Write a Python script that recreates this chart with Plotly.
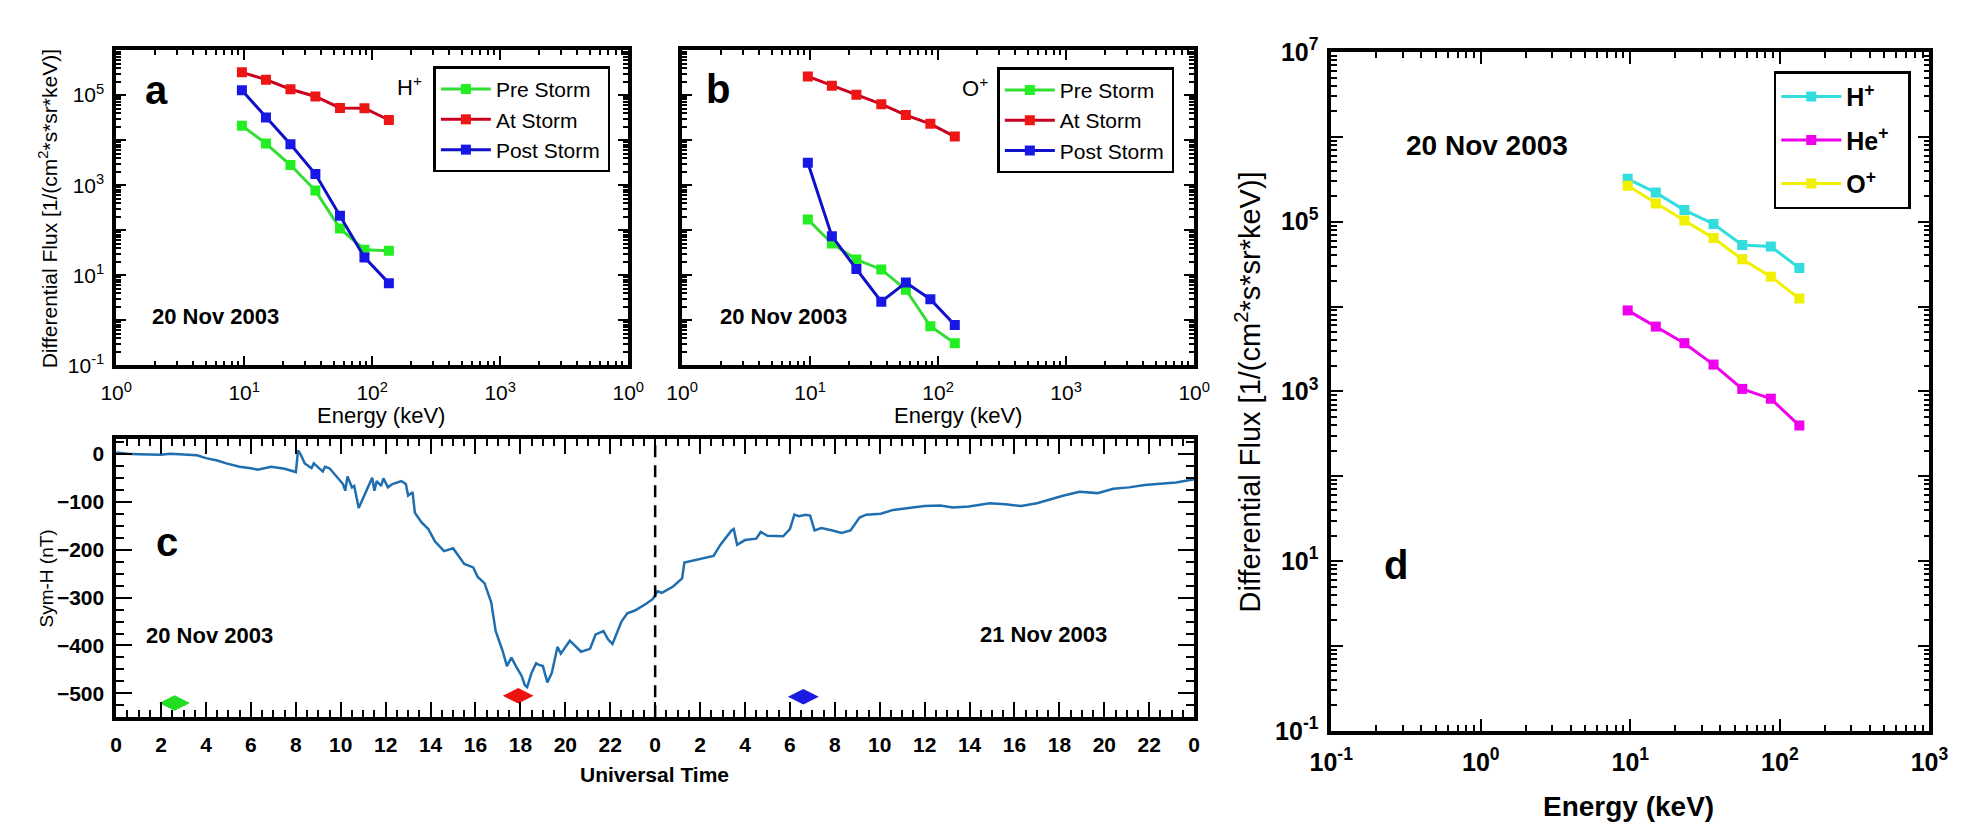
import plotly.graph_objects as go

# ---------------- data ----------------
energy_kev = [9.6, 14.8, 23.0, 36.0, 56.0, 87.0, 135.0]

# panel a (H+)
hp_pre = [2.1e4, 8.4e3, 2.8e3, 7.6e2, 1.1e2, 37, 35]
hp_at = [3.2e5, 2.2e5, 1.35e5, 9.3e4, 5.2e4, 5.1e4, 2.8e4]
hp_post = [1.28e5, 3.2e4, 8.1e3, 1.77e3, 2.1e2, 25, 6.7]

# panel b (O+)
op_pre = [174, 51, 22.4, 13.5, 4.8, 0.74, 0.31]
op_at = [2.6e5, 1.62e5, 1.02e5, 6.3e4, 3.6e4, 2.3e4, 1.2e4]
op_post = [3.16e3, 74, 13.8, 2.6, 6.9, 2.95, 0.79]

# panel d (at storm)
d_hp = [3.2e5, 2.2e5, 1.37e5, 9.4e4, 5.3e4, 5.1e4, 2.84e4]
d_hep = [9.0e3, 5.8e3, 3.7e3, 2.07e3, 1.07e3, 820, 395]
d_op = [2.65e5, 1.64e5, 1.03e5, 6.4e4, 3.6e4, 2.25e4, 1.24e4]

# panel c (Sym-H, hours from 20 Nov 2003 00 UT)
ut_hours = [0.0, 0.5, 1.0, 1.5, 2.0, 2.4, 2.8, 3.1, 3.6, 4.0, 4.5, 4.9, 5.5, 6.0, 6.3,
            6.9, 7.5, 8.0, 8.1, 8.2, 8.4, 8.7, 8.8, 9.2, 9.3, 9.5, 9.8, 10.1, 10.2,
            10.3, 10.5, 10.6, 10.8, 11.0, 11.2, 11.4, 11.5, 11.6, 11.8, 11.9, 12.1,
            12.3, 12.7, 12.9, 13.0, 13.2, 13.3, 13.6, 13.9, 14.2, 14.6, 15.0, 15.2,
            15.5, 15.9, 16.1, 16.4, 16.7, 16.9, 17.2, 17.4, 17.6, 17.8, 18.05, 18.2,
            18.3, 18.5, 18.7, 18.8, 19.0, 19.2, 19.4, 19.65, 19.8, 20.2, 20.5, 20.7,
            21.1, 21.35, 21.7, 21.9, 22.1, 22.3, 22.5, 22.76, 23.1, 23.6, 23.9, 24.1,
            24.3, 24.8, 25.2, 25.3, 25.9, 26.6, 26.9, 27.1, 27.4, 27.5, 27.65, 28.0,
            28.5, 28.7, 29.0, 29.7, 30.0, 30.2, 30.4, 30.7, 30.9, 31.1, 31.4, 31.9,
            32.3, 32.7, 33.1, 33.4, 34.05, 34.6, 35.3, 36.0, 36.7, 37.25, 37.97, 38.9,
            39.6, 40.3, 41.0, 41.7, 42.2, 42.9, 43.7, 44.4, 45.1, 45.8, 46.5, 47.2, 48.0]
symh_nt = [3, 0, -1, -1, -2, 0, -1, -2, -3, -9, -14, -20, -27, -30, -33,
           -27, -31, -38, 7, 0, -20, -30, -20, -37, -27, -30, -47, -63, -77,
           -47, -70, -67, -113, -93, -70, -50, -77, -57, -67, -51, -70,
           -63, -57, -63, -87, -80, -123, -143, -157, -183, -203, -197, -210,
           -230, -237, -257, -270, -310, -370, -410, -443, -425, -443, -463, -483,
           -487, -457, -437, -440, -443, -477, -457, -403, -417, -390, -403, -413,
           -407, -377, -370, -387, -397, -375, -350, -333, -327, -313, -303, -287,
           -290, -277, -260, -227, -220, -213, -190, -177, -160, -157, -190, -180,
           -177, -163, -171, -172, -157, -127, -130, -127, -129, -160, -155, -160,
           -165, -160, -133, -127, -125, -117, -113, -109, -108, -112, -110, -103,
           -105, -109, -103, -93, -87, -79, -82, -73, -70, -65, -62, -60, -53]

# sample-time markers (hours, nT)
mark_hours = [2.6, 17.9, 30.6]
mark_vals = [-520, -505, -507]
mark_colors = ['#22DD22', '#EE1111', '#1A1AE0']

c_xticks = list(range(0, 49, 2))
c_xticklabels = [str(h % 24) for h in c_xticks]

# ---------------- layout helpers ----------------
W, H = 1961, 832
FONT = 'Liberation Sans, Arial, Helvetica, sans-serif'
NB = '\u00a0'


def px(x):
    return x / W


def py(y):
    return 1 - y / H


def sup(e):
    return '10<sup>%d</sup>' % e


def log_minor(e0, e1):
    return [k * 10.0 ** e for e in range(e0, e1) for k in range(2, 10)]


def box_axis(**kw):
    d = dict(showline=True, linecolor='black', linewidth=3.5, mirror='allticks',
             ticks='inside', tickcolor='black', tickwidth=2, showgrid=False,
             zeroline=False)
    d.update(kw)
    return d


fig = go.Figure()

C_GREEN_L, C_GREEN_M = '#33DD33', '#22EE22'
C_RED_L, C_RED_M = '#C8001E', '#EE1515'
C_BLUE_L, C_BLUE_M = '#1010C8', '#1818E6'


def add_spec(x, y, name, lc, mc, xa, ya, legend):
    fig.add_trace(go.Scatter(
        x=x, y=y, name=name, mode='lines+markers', xaxis=xa, yaxis=ya,
        line=dict(color=lc, width=3), legend=legend, showlegend=True,
        legendgroup=legend + name,
        marker=dict(symbol='square', size=10, color=mc)))


# panel a
add_spec(energy_kev, hp_pre, 'Pre Storm' + NB * 2, C_GREEN_L, C_GREEN_M, 'x', 'y', 'legend')
add_spec(energy_kev, hp_at, 'At Storm', C_RED_L, C_RED_M, 'x', 'y', 'legend')
add_spec(energy_kev, hp_post, 'Post Storm', C_BLUE_L, C_BLUE_M, 'x', 'y', 'legend')
# panel b
add_spec(energy_kev, op_pre, 'Pre Storm' + NB * 2, C_GREEN_L, C_GREEN_M, 'x2', 'y2', 'legend2')
add_spec(energy_kev, op_at, 'At Storm', C_RED_L, C_RED_M, 'x2', 'y2', 'legend2')
add_spec(energy_kev, op_post, 'Post Storm', C_BLUE_L, C_BLUE_M, 'x2', 'y2', 'legend2')
# panel d
add_spec(energy_kev, d_hp, 'H<sup>+</sup>', '#33DDDD', '#33DDDD', 'x4', 'y4', 'legend3')
add_spec(energy_kev, d_hep, 'He<sup>+</sup>' + NB * 2, '#EE00EE', '#EE00EE', 'x4', 'y4', 'legend3')
add_spec(energy_kev, d_op, 'O<sup>+</sup>', '#F0F000', '#F0F000', 'x4', 'y4', 'legend3')

# panel c
fig.add_trace(go.Scatter(x=ut_hours, y=symh_nt, mode='lines', xaxis='x3', yaxis='y3',
                         line=dict(color='#1F6EB0', width=2.5), showlegend=False))
fig.add_trace(go.Scatter(x=mark_hours, y=mark_vals, mode='markers', xaxis='x3', yaxis='y3',
                         marker=dict(symbol='diamond-wide', size=22, color=mark_colors),
                         showlegend=False))

# ---------------- axes ----------------
ab_xticks = [1, 10, 100, 1000, 10000]
ab_xtext = [sup(0), sup(1), sup(2), sup(3), sup(0)]
ab_yticks = [10.0 ** e for e in range(-1, 7)]
a_ytext = [sup(e) if e % 2 != 0 else '' for e in range(-1, 7)]
minor_ab_x = dict(tickvals=log_minor(0, 4), ticks='inside', ticklen=5, tickwidth=1.5, tickcolor='black')
minor_ab_y = dict(tickvals=log_minor(-1, 6), ticks='inside', ticklen=5, tickwidth=1.5, tickcolor='black')
tf_ab = dict(family=FONT, size=21, color='black')

dom_ab_y = [py(353), py(25)]
fig.update_layout(
    xaxis=box_axis(type='log', range=[0, 4], domain=[px(88), px(611)], anchor='y',
                   tickmode='array', tickvals=ab_xticks, ticktext=ab_xtext, ticklen=10,
                   minor=minor_ab_x, tickfont=tf_ab, ticklabelstandoff=6),
    yaxis=box_axis(type='log', range=[-1, 6], domain=dom_ab_y, anchor='x',
                   tickmode='array', tickvals=ab_yticks, ticktext=a_ytext, ticklen=10,
                   minor=minor_ab_y, tickfont=tf_ab, ticklabelstandoff=4),
    xaxis2=box_axis(type='log', range=[0, 4], domain=[px(666), px(1189)], anchor='y2',
                    tickmode='array', tickvals=ab_xticks, ticktext=ab_xtext, ticklen=10,
                    minor=minor_ab_x, tickfont=tf_ab, ticklabelstandoff=6),
    yaxis2=box_axis(type='log', range=[-1, 6], domain=dom_ab_y, anchor='x2',
                    tickmode='array', tickvals=ab_yticks, showticklabels=False, ticklen=10,
                    minor=minor_ab_y, tickfont=tf_ab),
    xaxis3=box_axis(range=[0, 48], domain=[px(88), px(1189)], anchor='y3',
                    tickmode='array', tickvals=c_xticks, ticktext=c_xticklabels, ticklen=16,
                    minor=dict(tickvals=[i * 0.5 for i in range(97)], ticks='inside',
                               ticklen=8, tickwidth=2, tickcolor='black'),
                    tickfont=dict(family=FONT, size=21, color='black', weight='bold'),
                    ticklabelstandoff=6),
    yaxis3=box_axis(range=[-550, 32], domain=[py(719), py(429)], anchor='x3',
                    tickmode='array', tickvals=[-500, -400, -300, -200, -100, 0], ticklen=16,
                    minor=dict(tickvals=list(range(-550, 31, 25)), ticks='inside',
                               ticklen=8, tickwidth=2, tickcolor='black'),
                    tickfont=dict(family=FONT, size=21, color='black', weight='bold'),
                    ticklabelstandoff=4),
    xaxis4=box_axis(type='log', range=[-1, 3], domain=[px(1329), px(1940)], anchor='y4',
                    tickmode='array', tickvals=[0.1, 1, 10, 100, 1000],
                    ticktext=[sup(e) for e in range(-1, 4)], ticklen=12,
                    minor=dict(tickvals=log_minor(-1, 3), ticks='inside', ticklen=6,
                               tickwidth=1.5, tickcolor='black'),
                    tickfont=dict(family=FONT, size=25, color='black', weight='bold'),
                    ticklabelstandoff=6),
    yaxis4=box_axis(type='log', range=[-1, 7], domain=[py(733), py(27)], anchor='x4',
                    tickmode='array', tickvals=[10.0 ** e for e in range(-1, 8)],
                    ticktext=[sup(e) if e % 2 != 0 else '' for e in range(-1, 8)], ticklen=12,
                    minor=dict(tickvals=log_minor(-1, 7), ticks='inside', ticklen=6,
                               tickwidth=1.5, tickcolor='black'),
                    tickfont=dict(family=FONT, size=25, color='black', weight='bold'),
                    ticklabelstandoff=4),
)

# ---------------- legends ----------------
leg_common = dict(bgcolor='white', bordercolor='black', borderwidth=2.5,
                  xanchor='left', yanchor='top', itemwidth=50, tracegroupgap=0)
fig.update_layout(
    legend=dict(x=px(412), y=py(42), font=dict(family=FONT, size=21, color='black'),
                **leg_common),
    legend2=dict(x=px(988), y=py(43), font=dict(family=FONT, size=21, color='black'),
                 **leg_common),
    legend3=dict(x=px(1781), y=py(47),
                 font=dict(family=FONT, size=25, color='black', weight='bold'),
                 **{**leg_common, 'tracegroupgap': 8, 'itemwidth': 60}),
)

# ---------------- annotations ----------------
ann = []


def txt(x, y, s, size, bold=False, angle=0):
    ann.append(dict(x=px(x), y=py(y), xref='paper', yref='paper', text=s, showarrow=False,
                    textangle=angle, xanchor='center', yanchor='middle',
                    font=dict(family=FONT, size=size, color='black',
                              weight='bold' if bold else 'normal')))


ytitle = 'Differential Flux [1/(cm<sup>2</sup>*s*sr*keV)]'
txt(18, 190, ytitle, 21, angle=-90)
txt(358, 405, 'Energy (keV)', 22)
txt(948, 405, 'Energy (keV)', 22)
txt(129, 67, 'a', 40, bold=True)
txt(703, 65, 'b', 40, bold=True)
txt(388, 62, 'H<sup>+</sup>', 22)
txt(965, 63, 'O<sup>+</sup>', 22)
txt(189, 302, '20 Nov 2003', 22, bold=True)
txt(770, 302, '20 Nov 2003', 22, bold=True)

txt(17, 575, 'Sym-H (nT)', 19, angle=-90)
txt(638, 778, 'Universal Time', 21, bold=True)
txt(140, 537, 'c', 40, bold=True)
txt(183, 634, '20 Nov 2003', 22, bold=True)
txt(1035, 633, '21 Nov 2003', 22, bold=True)

txt(1244, 380, ytitle, 29, angle=-90)
txt(1633, 812, 'Energy (keV)', 28, bold=True)
txt(1488, 124, '20 Nov 2003', 28, bold=True)
txt(1395, 561, 'd', 40, bold=True)

fig.update_layout(
    annotations=ann,
    shapes=[dict(type='line', xref='x3', yref='y3 domain', x0=24, x1=24, y0=0, y1=1,
                 line=dict(color='black', width=2.5, dash='12px,8px'))],
    width=W, height=H, margin=dict(l=0, r=0, t=0, b=0),
    paper_bgcolor='white', plot_bgcolor='white',
    font=dict(family=FONT, color='black'),
)

fig.write_html('out.html')
